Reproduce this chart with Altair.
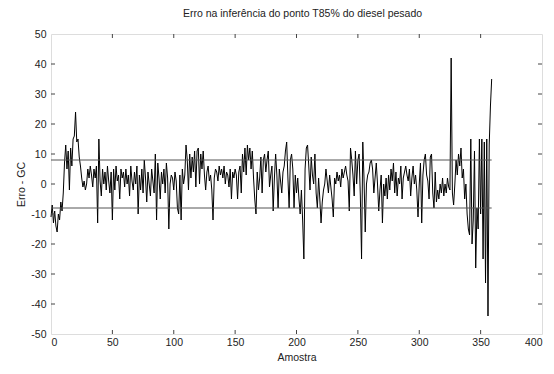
import altair as alt
import pandas as pd

# error values, sample index 0..359
err = [
    -11, -7, -13, -9, -14, -16, -10, -12, -6, -9,
    -3, 7, 13, 5, 11, -2, 12, 6, 15, 16,
    24, 14, 15, 9, 6, 2, -1, 1, -2, 0,
    5, 2, 6, 3, -1, 5, 2, 6, -13, 15,
    1, -4, 5, 0, 4, -2, 6, 1, -3, 4,
    -12, 5, -2, 6, 1, 3, -5, 5, 2, 4,
    -1, 5, 0, 3, -4, 6, 1, -2, 4, 0,
    6, -10, 3, -2, 5, -3, 8, 2, -6, 4,
    0, -4, 5, 1, -3, 10, -12, 7, 2, -5,
    4, 0, 5, -3, 7, 2, -15, 0, 3, 2,
    -2, 4, 1, -8, -10, 3, -12, 5, 0, 3,
    13, 8, -2, 10, 2, 9, 4, 11, -1, 11,
    12, 0, 10, 5, 11, 3, -2, 4, 6, 1,
    3, -2, -12, 2, 5, 4, 1, 6, 3, 5,
    2, 6, 0, 4, 3, -1, 5, -5, 4, 2,
    5, 3, -5, 4, 6, -3, 10, 4, 12, 3,
    13, 8, 12, 5, 11, 2, -5, -10, 4, -2,
    2, 9, -3, 8, 10, 4, 8, 11, -1, 3,
    6, -9, 2, 10, 3, -8, 5, 1, -3, 4,
    6, 11, 14, 2, -8, 8, 10, 5, -8, 3,
    -3, 2, -5, -10, -2, -12, -25, 5, 12, 13,
    6, -2, 9, 3, 0, 10, -3, -8, 2, -5,
    -13, -6, -2, 0, 5, 1, -3, 3, -1, -5,
    -11, 2, 0, 4, 1, 3, -1, 5, 2, 4,
    6, 3, 1, -9, 12, 8, 3, -4, 11, 0,
    8, 10, -4, -25, 14, 2, -16, 0, 3, 4,
    7, 8, 5, -3, 2, 7, 0, -9, -2, 3,
    -13, 0, -4, 2, -5, 3, -2, 5, 1, 7,
    -3, 4, -4, 2, 0, 6, -5, 2, 4, 6,
    3, 1, 5, -4, 2, 6, 0, 3, -2, -11,
    0, 7, -13, 3, 8, 10, 3, 1, -5, 9,
    10, -3, -8, 4, -6, -2, -5, 0, -3, 2,
    -4, 0, -3, 2, -1, -2, 42, -3, -7, 0,
    8, 3, 10, 6, 12, 2, 5, -5, 0, -10,
    -15, -17, 15, -20, -12, 11, -28, -8, -15, 15,
    -10, 15, -25, 14, -33, 15, -44, 13, 26, 35,
]
limit_values = [8, -8]
x_ticks = [0, 50, 100, 150, 200, 250, 300, 350, 400]
y_ticks = [-50, -40, -30, -20, -10, 0, 10, 20, 30, 40, 50]
inner_x_ticks = [50, 100, 150, 200, 250, 300, 350]
inner_y_ticks = [-40, -30, -20, -10, 0, 10, 20, 30, 40]

W, H = 491, 300
FONT = "Liberation Sans"

df = pd.DataFrame({"Amostra": list(range(len(err))), "Erro": err})
lim = pd.DataFrame({"y": limit_values, "x0": [0] * len(limit_values),
                    "x1": [len(err) - 1] * len(limit_values)})
xt = pd.DataFrame({"x": inner_x_ticks})
yt = pd.DataFrame({"y": inner_y_ticks})

xscale = alt.Scale(domain=[0, 400], nice=False, zero=False)
yscale = alt.Scale(domain=[-50, 50], nice=False, zero=False)

hyphen = "datum.value < 0 ? '-' + abs(datum.value) : '' + datum.value"

xaxis = alt.Axis(values=x_ticks, ticks=False, domain=False, grid=False,
                 labelPadding=3, title="Amostra", titlePadding=5,
                 labelFont=FONT, titleFont=FONT, labelFontSize=10.5,
                 titleFontSize=10.5, titleFontWeight="normal",
                 labelColor="#222", titleColor="#222", labelOverlap=False)
yaxis = alt.Axis(values=y_ticks, ticks=False, domain=False, grid=False,
                 labelPadding=5, title="Erro - GC", titlePadding=4,
                 labelFont=FONT, titleFont=FONT, labelFontSize=10.5,
                 titleFontSize=10.5, titleFontWeight="normal",
                 labelColor="#222", titleColor="#222", labelOverlap=False,
                 labelExpr=hyphen)

line = alt.Chart(df).mark_line(color="black", strokeWidth=1).encode(
    x=alt.X("Amostra:Q", scale=xscale, axis=xaxis),
    y=alt.Y("Erro:Q", scale=yscale, axis=yaxis),
)

limits = alt.Chart(lim).mark_rule(color="#555", strokeWidth=1).encode(
    x=alt.X("x0:Q", scale=xscale, axis=xaxis), x2="x1:Q",
    y=alt.Y("y:Q", scale=yscale, axis=yaxis),
)

tick_color = "#444"
bot = alt.Chart(xt).mark_rule(color=tick_color).encode(
    x=alt.X("x:Q", scale=xscale, axis=xaxis), y=alt.value(H), y2=alt.value(H - 4))
top = alt.Chart(xt).mark_rule(color=tick_color).encode(
    x=alt.X("x:Q", scale=xscale, axis=xaxis), y=alt.value(0), y2=alt.value(4))
left = alt.Chart(yt).mark_rule(color=tick_color).encode(
    y=alt.Y("y:Q", scale=yscale, axis=yaxis), x=alt.value(0), x2=alt.value(4))
right = alt.Chart(yt).mark_rule(color=tick_color).encode(
    y=alt.Y("y:Q", scale=yscale, axis=yaxis), x=alt.value(W), x2=alt.value(W - 4))

chart = alt.layer(line, limits, bot, top, left, right).properties(
    width=W, height=H,
    title=alt.TitleParams("Erro na inferência do ponto T85% do diesel pesado",
                          font=FONT, fontSize=10.5, fontWeight="normal",
                          color="#222", offset=10, anchor="middle", dx=6),
    autosize=alt.AutoSizeParams(type="none"),
    padding={"left": 43, "top": 26, "right": 4, "bottom": 32},
).configure_view(stroke="#444", strokeWidth=1).configure(background="white")

chart.save("out.html", embed_options={"renderer": "svg", "actions": False})
